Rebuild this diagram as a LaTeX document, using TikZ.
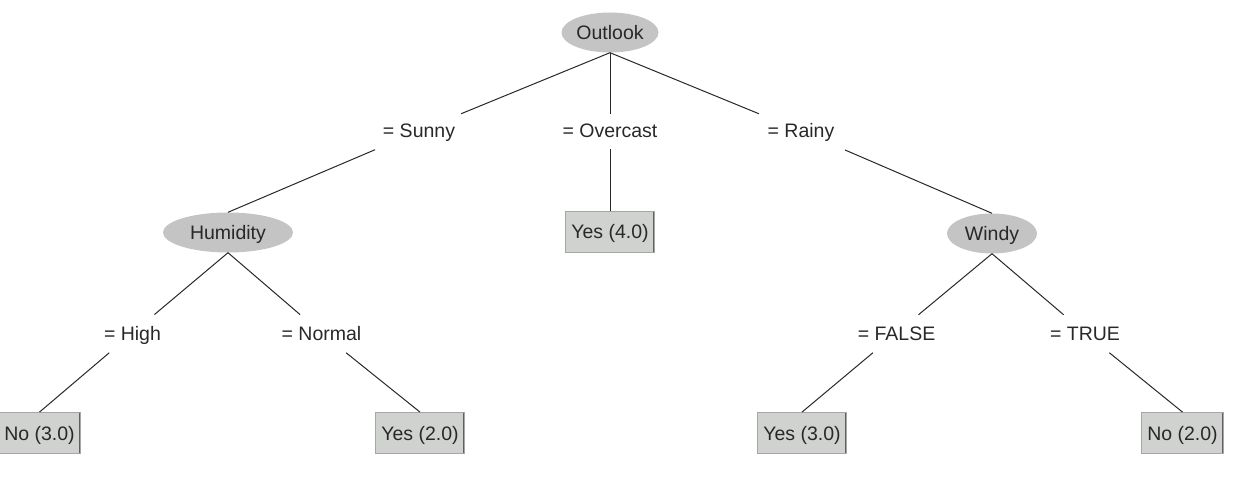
\documentclass[tikz,border=0pt]{standalone}
\usepackage{fontspec}
\setmainfont{Liberation Sans}
\usetikzlibrary{calc,shapes.geometric}
\definecolor{ovalfill}{RGB}{196,196,196}
\definecolor{leaffill}{RGB}{208,210,208}
\definecolor{leafline}{RGB}{165,167,165}
\definecolor{leafdark}{RGB}{95,95,95}
\definecolor{inkc}{RGB}{40,40,40}
\definecolor{edgec}{RGB}{40,40,40}
\begin{document}
\begin{tikzpicture}[x=1pt,y=-1pt,
  every node/.style={font=\fontsize{19.5}{23}\selectfont, text=inkc, inner sep=0pt,
    text height=14pt, text depth=0pt},
  attr/.style={ellipse, fill=ovalfill, minimum height=40pt},
  leaf/.style={rectangle, fill=leaffill, draw=leafline, line width=0.8pt,
    minimum height=41pt, inner xsep=5.5pt,
    path picture={\draw[leafdark,line width=2pt] (path picture bounding box.north east) -- (path picture bounding box.south east);}},
  cond/.style={rectangle, minimum height=36pt},
  link/.style={draw=edgec, line width=1pt}]
\useasboundingbox (0,0) rectangle (1236,478);
\node[attr, minimum width=97pt] (outlook) at (610,32.5) {Outlook};
\node[cond] (sunny) at (419,131) {= Sunny};
\node[cond] (overcast) at (610,131) {= Overcast};
\node[cond] (rainy) at (801,131) {= Rainy};
\node[attr, minimum width=130pt] (humidity) at (228,232.5) {Humidity};
\node[leaf] (yes4) at (610,231.5) {Yes (4.0)};
\node[attr, minimum width=90pt] (windy) at (992,233.5) {Windy};
\node[cond] (high) at (132.5,333) {= High};
\node[cond] (normal) at (321.5,333) {= Normal};
\node[cond] (false) at (896.5,333) {= FALSE};
\node[cond] (true) at (1085,333) {= TRUE};
\node[leaf] (no3) at (39.5,433) {No (3.0)};
\node[leaf] (yes2) at (420,433) {Yes (2.0)};
\node[leaf] (yes3) at (802,433) {Yes (3.0)};
\node[leaf] (no2) at (1182.5,433) {No (2.0)};
% level 1
\draw[link] (outlook.south) -- ($(outlook.south)!0.78!(sunny.center)$);
\draw[link] (outlook.south) -- ($(outlook.south)!0.78!(overcast.center)$);
\draw[link] (outlook.south) -- ($(outlook.south)!0.78!(rainy.center)$);
\draw[link] ($(sunny.center)!0.23!(humidity.north)$) -- (humidity.north);
\draw[link] ($(overcast.center)!0.23!(yes4.north)$) -- (yes4.north);
\draw[link] ($(rainy.center)!0.23!(windy.north)$) -- (windy.north);
% level 2
\draw[link] (humidity.south) -- ($(humidity.south)!0.77!(high.center)$);
\draw[link] (humidity.south) -- ($(humidity.south)!0.77!(normal.center)$);
\draw[link] (windy.south) -- ($(windy.south)!0.77!(false.center)$);
\draw[link] (windy.south) -- ($(windy.south)!0.77!(true.center)$);
\draw[link] ($(high.center)!0.25!(no3.north)$) -- (no3.north);
\draw[link] ($(normal.center)!0.25!(yes2.north)$) -- (yes2.north);
\draw[link] ($(false.center)!0.25!(yes3.north)$) -- (yes3.north);
\draw[link] ($(true.center)!0.25!(no2.north)$) -- (no2.north);
\end{tikzpicture}
\end{document}
